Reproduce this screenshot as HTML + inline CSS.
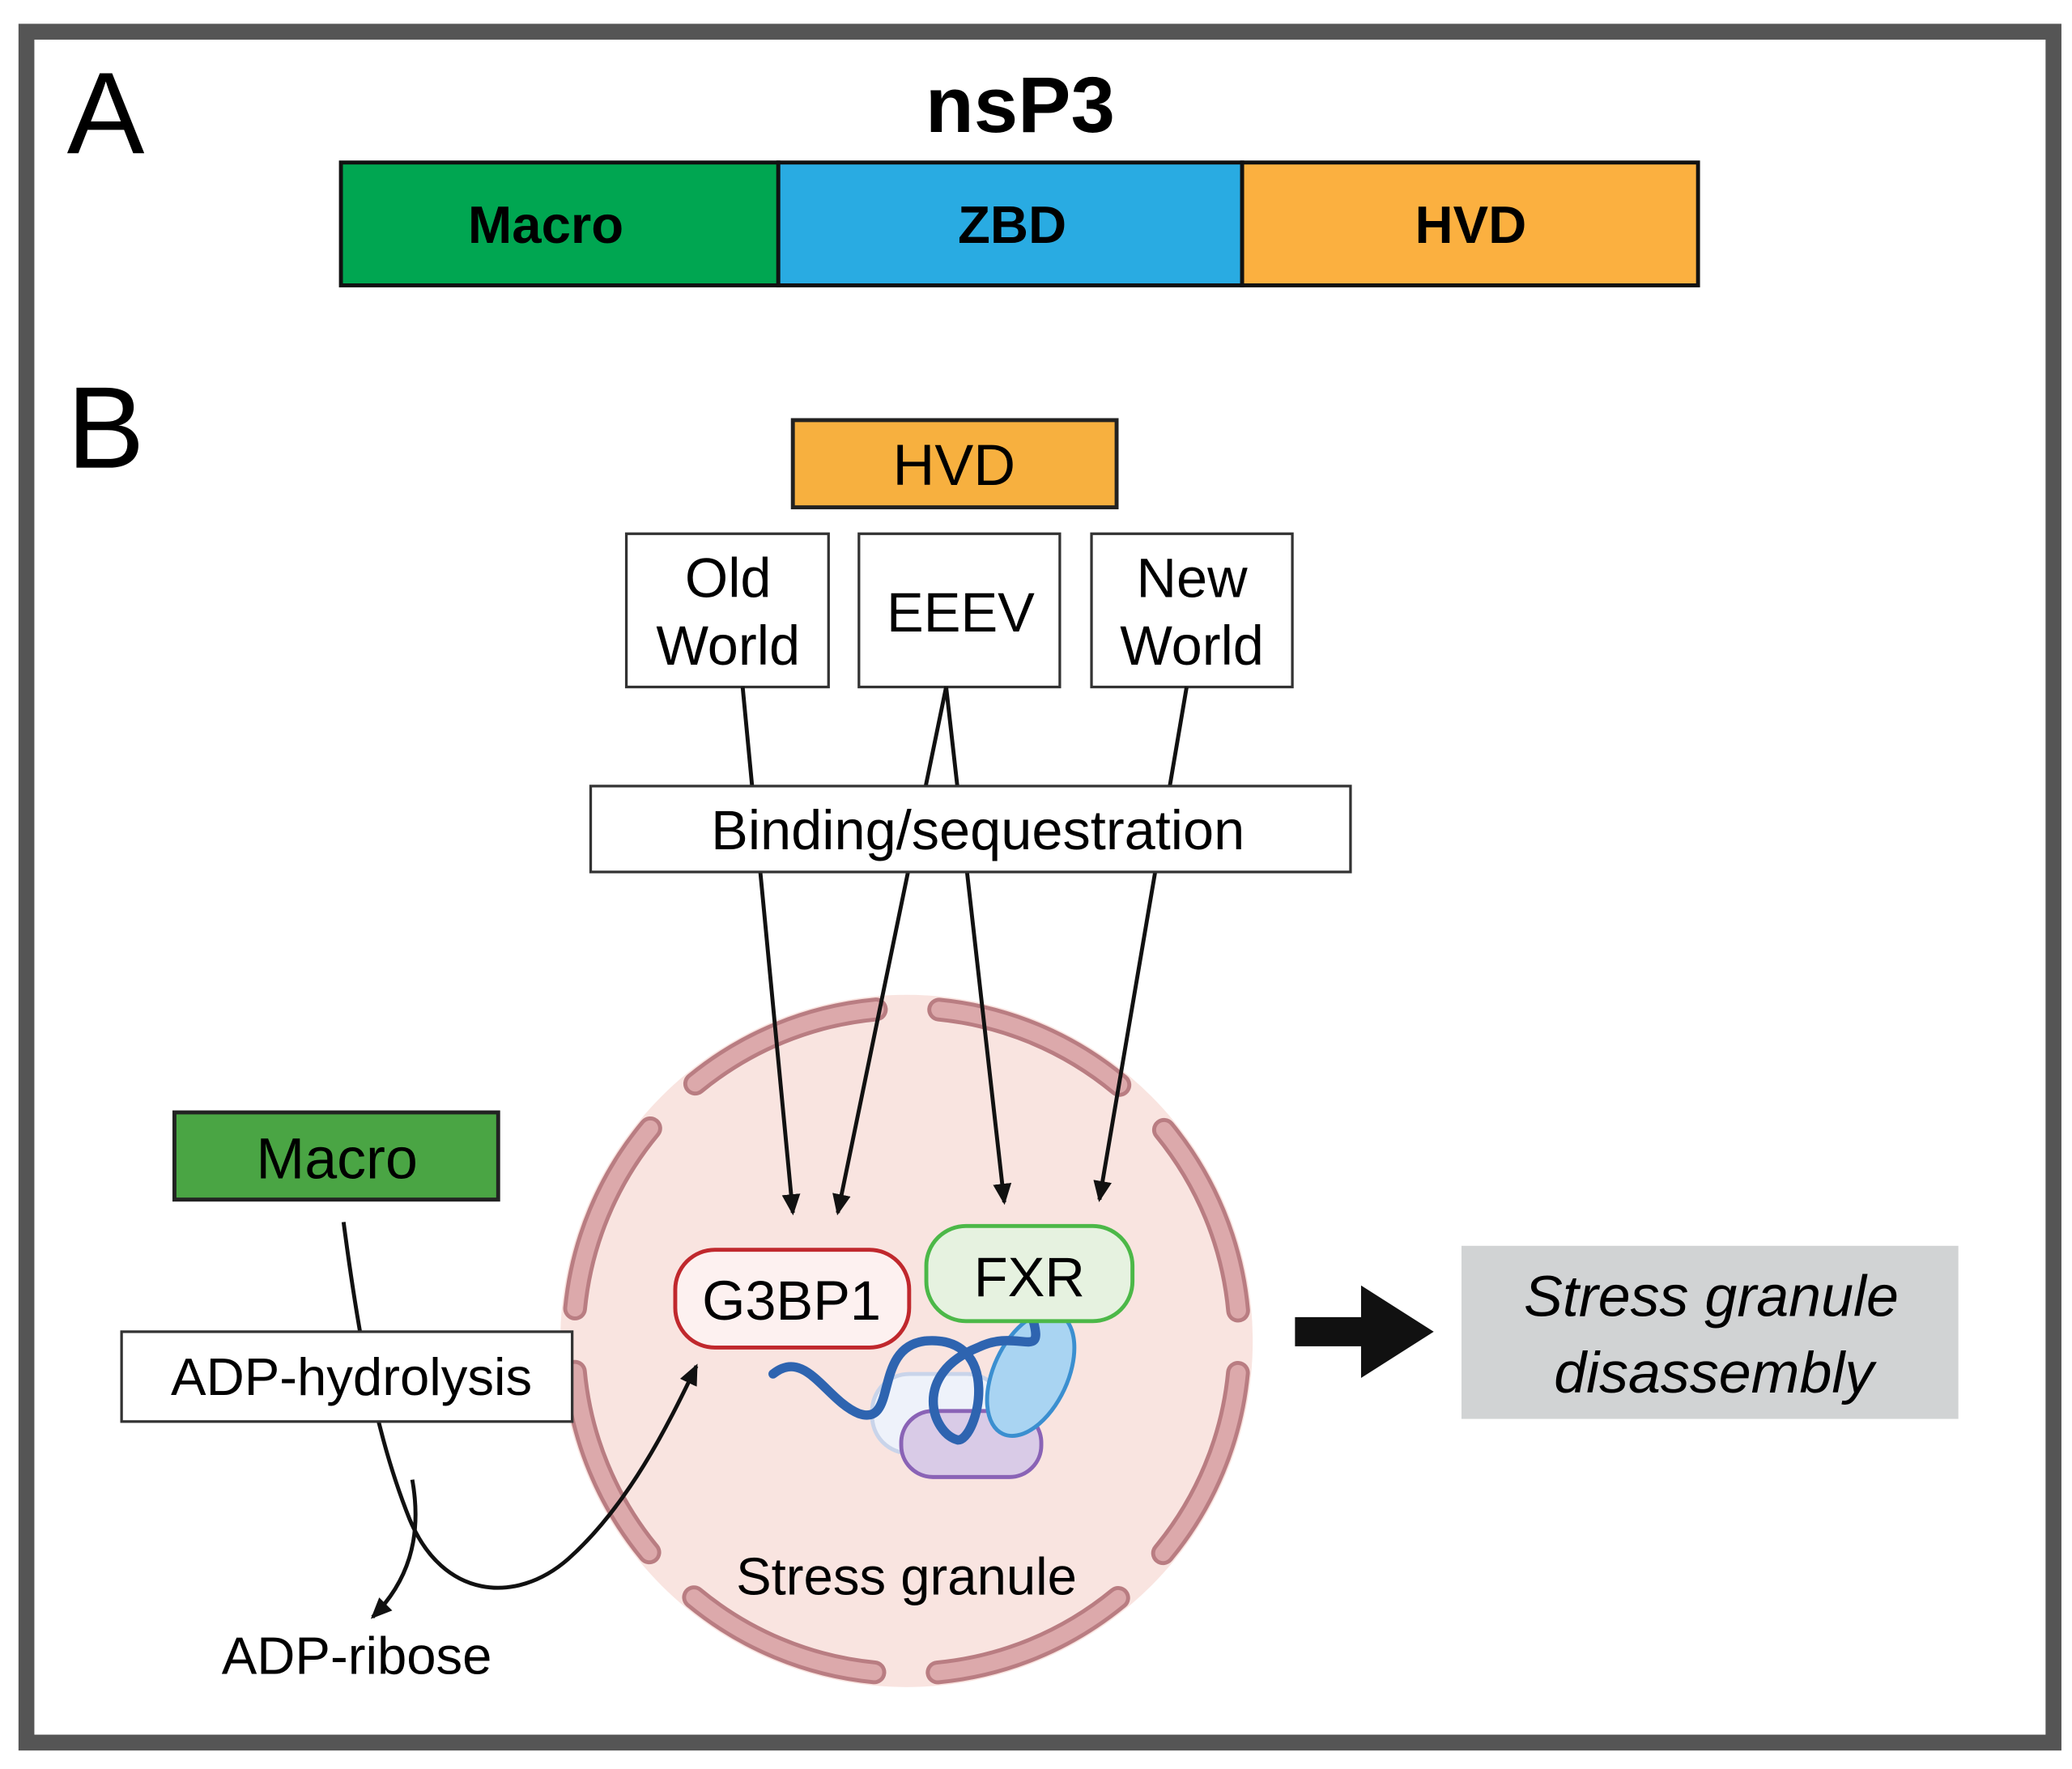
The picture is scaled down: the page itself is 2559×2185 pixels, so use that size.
<!DOCTYPE html>
<html><head><meta charset="utf-8"><style>
html,body{margin:0;padding:0;background:#fff;}
svg{display:block;}
text{font-family:"Liberation Sans",sans-serif;}
</style></head><body>
<svg width="2559" height="2185" viewBox="0 0 1568 1339" preserveAspectRatio="none" xmlns="http://www.w3.org/2000/svg">
<defs>
<marker id="ah" markerWidth="16" markerHeight="16" refX="14" refY="8" orient="auto" markerUnits="userSpaceOnUse" viewBox="0 0 16 16">
<path d="M0,1 L16,8 L0,15 Z" fill="#111"/></marker>
</defs>
<rect x="0" y="0" width="1568" height="1339" fill="#fff"/>
<rect x="20" y="24" width="1534" height="1295" fill="#fff" stroke="#555" stroke-width="12"/>
<text x="80" y="116" font-size="88" text-anchor="middle">A</text>
<text x="80" y="354" font-size="88" text-anchor="middle">B</text>
<text x="772" y="100" font-size="60" font-weight="bold" text-anchor="middle">nsP3</text>
<rect x="258" y="123" width="331" height="93" fill="#00a651" stroke="#111" stroke-width="3"/>
<rect x="589" y="123" width="351" height="93" fill="#29abe2" stroke="#111" stroke-width="3"/>
<rect x="940" y="123" width="345" height="93" fill="#fbb040" stroke="#111" stroke-width="3"/>
<text x="413" y="184" font-size="40" font-weight="bold" text-anchor="middle">Macro</text>
<text x="766" y="184" font-size="40" font-weight="bold" text-anchor="middle">ZBD</text>
<text x="1113" y="184" font-size="40" font-weight="bold" text-anchor="middle">HVD</text>

<rect x="600" y="318" width="245" height="66" fill="#f7b03f" stroke="#222" stroke-width="3"/>
<text x="722" y="367" font-size="44" text-anchor="middle">HVD</text>
<g fill="#fff" stroke="#333" stroke-width="2">
<rect x="474" y="404" width="153" height="116"/>
<rect x="650" y="404" width="152" height="116"/>
<rect x="826" y="404" width="152" height="116"/>
</g>
<g font-size="42" text-anchor="middle">
<text x="551" y="452">Old</text><text x="551" y="503">World</text>
<text x="727" y="478">EEEV</text>
<text x="902" y="452">New</text><text x="902" y="503">World</text>
</g>

<!-- stress granule -->
<circle cx="686" cy="1015" r="262" fill="#f9e4e0"/>
<circle cx="686" cy="1015" r="252" fill="none" stroke="#b97d82" stroke-width="18" stroke-dasharray="150 48" stroke-linecap="round" transform="rotate(5.5 686 1015)"/>
<circle cx="686" cy="1015" r="252" fill="none" stroke="#dca9ab" stroke-width="12" stroke-dasharray="150 48" stroke-linecap="round" transform="rotate(5.5 686 1015)"/>

<g stroke="#111" stroke-width="3" fill="none">
<line x1="562" y1="520" x2="600" y2="918" marker-end="url(#ah)"/>
<line x1="716" y1="520" x2="634" y2="918" marker-end="url(#ah)"/>
<line x1="716" y1="520" x2="760" y2="910" marker-end="url(#ah)"/>
<line x1="898" y1="520" x2="832" y2="908" marker-end="url(#ah)"/>
</g>
<rect x="447" y="595" width="575" height="65" fill="#fff" stroke="#333" stroke-width="2"/>
<text x="740" y="643" font-size="42" text-anchor="middle">Binding/sequestration</text>

<!-- proteins -->
<rect x="660" y="1040" width="100" height="60" rx="28" fill="#eef2fa" stroke="#c9d4ea" stroke-width="3"/>
<rect x="682" y="1068" width="106" height="50" rx="24" fill="#d9cbe7" stroke="#8a63b6" stroke-width="3"/>
<ellipse cx="780" cy="1040" rx="28" ry="50" transform="rotate(25 780 1040)" fill="#a9d4f2" stroke="#3b8fd0" stroke-width="3"/>
<path d="M585,1040 C610,1020 625,1060 650,1070 C680,1080 660,1020 700,1015 C760,1010 740,1090 725,1090 C705,1085 690,1040 740,1020 C770,1005 790,1030 782,1000" fill="none" stroke="#2e64b0" stroke-width="7" stroke-linecap="round"/>
<rect x="511" y="946" width="177" height="74" rx="30" fill="#fdf1f0" stroke="#c0282d" stroke-width="3"/>
<text x="599" y="999" font-size="42" text-anchor="middle">G3BP1</text>
<rect x="701" y="928" width="156" height="72" rx="30" fill="#e6f2e0" stroke="#4cb848" stroke-width="3"/>
<text x="779" y="981" font-size="42" text-anchor="middle">FXR</text>
<text x="686" y="1207" font-size="40" text-anchor="middle">Stress granule</text>

<!-- Macro -->
<rect x="132" y="842" width="245" height="66" fill="#4aa544" stroke="#222" stroke-width="3"/>
<text x="255" y="892" font-size="44" text-anchor="middle">Macro</text>
<g stroke="#111" stroke-width="3" fill="none">
<path d="M260,925 C275,1040 290,1100 310,1150 C335,1210 390,1215 430,1180 C475,1140 505,1080 527,1034" marker-end="url(#ah)"/>
<path d="M312,1120 C320,1165 308,1198 282,1224" marker-end="url(#ah)"/>
</g>
<rect x="92" y="1008" width="341" height="68" fill="#fff" stroke="#333" stroke-width="2"/>
<text x="266" y="1056" font-size="40" text-anchor="middle">ADP-hydrolysis</text>
<text x="270" y="1267" font-size="40" text-anchor="middle">ADP-ribose</text>

<!-- big arrow -->
<path d="M980,997 L1030,997 L1030,973 L1085,1008 L1030,1043 L1030,1019 L980,1019 Z" fill="#111"/>
<rect x="1106" y="943" width="376" height="131" fill="#d1d3d4"/>
<g font-size="44" font-style="italic" text-anchor="middle">
<text x="1295" y="996">Stress granule</text>
<text x="1297" y="1054">disassembly</text>
</g>
</svg>
</body></html>
